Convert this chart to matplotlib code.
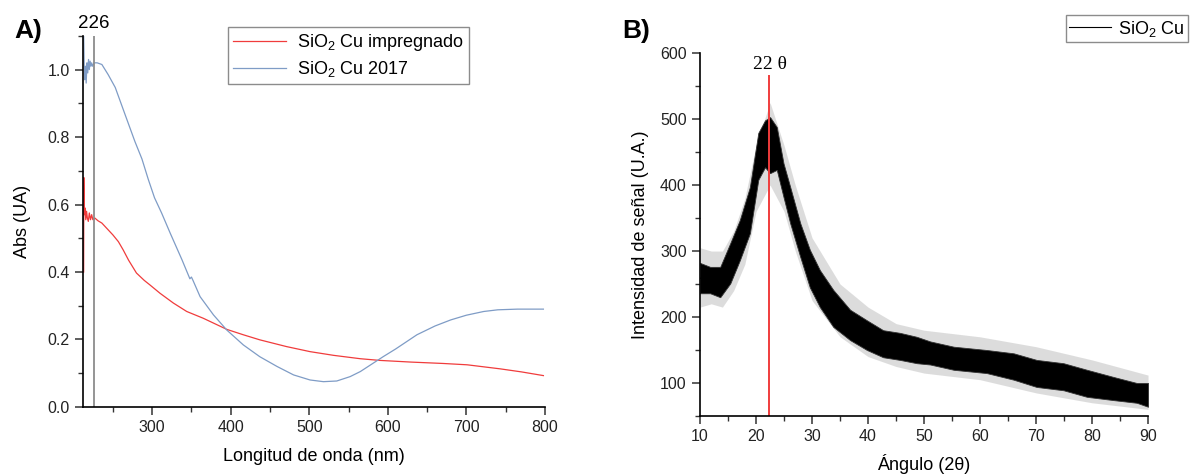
import matplotlib
matplotlib.use("Agg")
import matplotlib.pyplot as plt
from matplotlib.ticker import MultipleLocator

plt.rcParams.update({
    "font.family": ["Liberation Sans", "DejaVu Sans"],
    "font.size": 11,
    "mathtext.fontset": "custom",
    "mathtext.rm": "Liberation Sans",
    "mathtext.it": "Liberation Sans:italic",
})

# ── Panel A: UV-Vis ────────────────────────────────────
wl_imp = [212.8, 213.0, 213.3, 213.8, 214.5, 215.5, 216.5, 217.5, 218.7, 220,
          221.5, 223, 224.5, 227, 231, 236, 244, 250, 257, 263, 270, 280, 290,
          297, 310, 327, 344, 365, 395, 416, 437, 471, 501, 531, 565, 590, 630,
          670, 701, 743, 770, 798]
abs_imp = [0.40, 0.68, 0.62, 0.57, 0.59, 0.555, 0.58, 0.56, 0.55, 0.575,
           0.555, 0.57, 0.555, 0.56, 0.552, 0.545, 0.525, 0.51, 0.49, 0.466,
           0.435, 0.397, 0.375, 0.362, 0.337, 0.308, 0.283, 0.263, 0.23, 0.214,
           0.199, 0.179, 0.164, 0.153, 0.143, 0.138, 0.133, 0.129, 0.125, 0.113,
           0.104, 0.093]

wl_2017 = [212.8, 213.2, 213.6, 214, 215, 216, 217, 218, 219, 220, 221, 222,
           223, 224, 226, 230, 236, 244, 253, 265, 278, 287, 295, 303, 312,
           323, 338, 348, 350, 352, 361, 378, 395, 416, 437, 459, 480, 501,
           518, 535, 552, 565, 594, 610, 637, 660, 680, 700, 722, 740, 765,
           798]
abs_2017 = [1.10, 1.05, 0.99, 0.97, 1.01, 0.96, 1.02, 0.99, 1.03, 1.00, 1.025,
            1.01, 1.02, 1.01, 1.02, 1.02, 1.015, 0.985, 0.947, 0.87, 0.787,
            0.735, 0.675, 0.62, 0.575, 0.515, 0.436, 0.38, 0.385, 0.375, 0.327,
            0.273, 0.228, 0.184, 0.149, 0.12, 0.095, 0.080, 0.075, 0.077,
            0.090, 0.105, 0.149, 0.172, 0.214, 0.24, 0.258, 0.272, 0.283,
            0.288, 0.29, 0.29]

peak_a = 226

# ── Panel B: XRD, dense part of the noise band ─────────
ang = [10, 11.8, 13.6, 15.4, 17.1, 18.9, 20.4, 21.6, 22.5, 23.7, 24.9, 26.1,
       27.9, 29.6, 31.4, 33.8, 36.8, 39.8, 42.7, 45.7, 48.7, 51.1, 55.3, 61.2,
       66.0, 70.1, 74.9, 79.1, 83.9, 88.0, 90]
int_low = [236, 236, 230, 251, 286, 327, 408, 427, 418, 423, 382, 342, 291,
           245, 215, 185, 165, 150, 139, 135, 130, 128, 120, 115, 105, 94, 89,
           79, 74, 70, 64]
int_high = [282, 276, 276, 312, 347, 397, 479, 498, 503, 488, 433, 397, 342,
            302, 271, 241, 211, 195, 180, 176, 170, 163, 155, 150, 145, 135,
            130, 120, 109, 100, 100]

# reach of the single spikes around the band
spk_ang = [10, 12, 14, 16, 18, 20, 22.5, 25, 27, 30, 35, 40, 45, 50, 60, 70,
           80, 90]
spk_low = [215, 220, 215, 240, 280, 360, 400, 360, 300, 225, 170, 140, 125,
           115, 105, 85, 70, 60]
spk_high = [305, 300, 300, 330, 380, 460, 525, 460, 400, 320, 250, 215, 190,
            180, 170, 155, 135, 112]

peak_b = 22.4

fig = plt.figure(figsize=(11.93, 4.74), dpi=100)

# ── A) ─────────────────────────────────────────────────
ax1 = fig.add_axes([0.0696, 0.1414, 0.3872, 0.7830])
ax1.plot(wl_imp, abs_imp, color="#f03c3c", lw=0.9, label="SiO$_2$ Cu impregnado")
ax1.plot(wl_2017, abs_2017, color="#7f9cc6", lw=0.9, label="SiO$_2$ Cu 2017")
ax1.axvline(peak_a, color="#8c8c8c", lw=1.3)
ax1.text(peak_a, 1.112, str(peak_a), ha="center", va="bottom", fontsize=13.5)
ax1.set_xlim(212, 800)
ax1.set_ylim(0, 1.1)
ax1.xaxis.set_minor_locator(MultipleLocator(50))
ax1.yaxis.set_major_locator(MultipleLocator(0.2))
ax1.yaxis.set_minor_locator(MultipleLocator(0.1))
ax1.set_xticks([300, 400, 500, 600, 700, 800])
ax1.set_xlabel("Longitud de onda (nm)", fontsize=13, labelpad=9)
ax1.set_ylabel("Abs (UA)", fontsize=13, labelpad=12)
ax1.legend(loc="upper left", bbox_to_anchor=(228 / 1193, 1 - 27 / 474),
           bbox_transform=fig.transFigure, borderaxespad=0, fontsize=13,
           frameon=True, fancybox=False, edgecolor="#707070",
           handlelength=2.9, borderpad=0.3, labelspacing=0.3,
           handletextpad=0.6)
fig.text(0.012, 0.92, "A)", fontsize=19, fontweight="bold")

# ── B) ─────────────────────────────────────────────────
ax2 = fig.add_axes([0.5868, 0.1224, 0.3755, 0.7656])
ax2.fill_between(spk_ang, spk_low, spk_high, color="#777777", alpha=0.25, lw=0)
ax2.fill_between(ang, int_low, int_high, color="black", lw=0.6, edgecolor="#333333")
mid = [(lo + hi) / 2 for lo, hi in zip(int_low, int_high)]
ax2.plot(ang, mid, color="black", lw=0.8, label="SiO$_2$ Cu")
ax2.axvline(peak_b, ymin=0, ymax=(565 - 50) / 550, color="#f03c3c", lw=1.4)
ax2.text(peak_b, 570, "22 θ", ha="center", va="bottom", fontsize=14,
         family=["Liberation Serif", "DejaVu Serif"])
ax2.set_xlim(10, 90)
ax2.set_ylim(50, 600)
ax2.xaxis.set_major_locator(MultipleLocator(10))
ax2.xaxis.set_minor_locator(MultipleLocator(5))
ax2.yaxis.set_minor_locator(MultipleLocator(50))
ax2.set_yticks([100, 200, 300, 400, 500, 600])
ax2.set_xlabel("Ángulo (2θ)", fontsize=13, labelpad=7)
ax2.set_ylabel("Intensidad de señal (U.A.)", fontsize=13, labelpad=8)
ax2.legend(loc="upper right", bbox_to_anchor=(1188 / 1193, 1 - 15 / 474),
           bbox_transform=fig.transFigure, borderaxespad=0, fontsize=13,
           frameon=True, fancybox=False, edgecolor="#707070",
           handlelength=2.3, borderpad=0.2, handletextpad=0.4)
fig.text(0.522, 0.92, "B)", fontsize=19, fontweight="bold")

for ax in (ax1, ax2):
    ax.spines["top"].set_visible(False)
    ax.spines["right"].set_visible(False)
    ax.spines["left"].set_linewidth(1.2)
    ax.spines["bottom"].set_linewidth(1.2)
    ax.tick_params(which="major", direction="out", length=6, width=1.1,
                   labelsize=11.5, colors="#333333", labelcolor="#222222")
    ax.tick_params(which="minor", direction="out", length=3.5, width=1.0,
                   colors="#333333")

fig.savefig("out.png", dpi=100)
